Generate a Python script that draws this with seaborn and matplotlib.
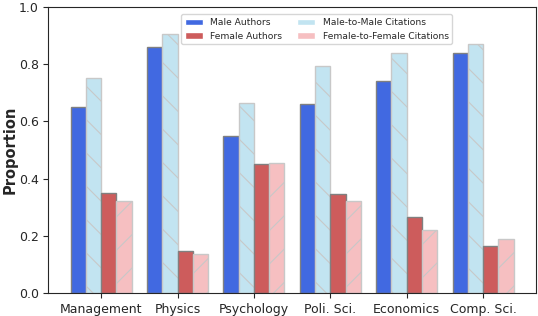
import matplotlib
matplotlib.use("Agg")
import matplotlib.pyplot as plt
import seaborn as sns
import pandas as pd

fields = ["Management", "Physics", "Psychology", "Poli. Sci.", "Economics", "Comp. Sci."]
male_authors = [0.65, 0.86, 0.55, 0.66, 0.74, 0.84]
male_to_male = [0.75, 0.905, 0.665, 0.795, 0.84, 0.87]
female_authors = [0.35, 0.145, 0.45, 0.345, 0.265, 0.165]
female_to_female = [0.32, 0.135, 0.455, 0.32, 0.22, 0.19]

series = ["Male Authors", "Male-to-Male Citations", "Female Authors", "Female-to-Female Citations"]
values = [male_authors, male_to_male, female_authors, female_to_female]

rows = []
for name, vals in zip(series, values):
    for f, v in zip(fields, vals):
        rows.append({"Field": f, "Series": name, "Proportion": v})
df = pd.DataFrame(rows)

colors = ["#4169e1", "#c2e4f1", "#cd5c5c", "#f6bfc1"]
edges = ["#808080", "#c8c8c8", "#808080", "#c8c8c8"]
hatches = ["", "\\", "", "/"]

sns.set_style("ticks")
plt.rcParams["font.family"] = ["DejaVu Sans"]
plt.rcParams["hatch.linewidth"] = 0.8

fig, ax = plt.subplots(figsize=(5.38, 3.16), dpi=100)
sns.barplot(data=df, x="Field", y="Proportion", hue="Series", hue_order=series,
            palette=colors, saturation=1, width=0.8, ax=ax)

for cont, ec, h in zip(ax.containers, edges, hatches):
    for bar in cont:
        bar.set_edgecolor(ec)
        bar.set_linewidth(1.0)
        bar.set_hatch(h)

ax.set_xlim(-0.69, 5.69)
ax.set_ylim(0, 1.0)
ax.set_xlabel("")
ax.set_ylabel("Proportion", fontsize=10.5, fontweight="bold", labelpad=1)
ax.tick_params(labelsize=9)

handles, labels = ax.get_legend_handles_labels()
order = [0, 2, 1, 3]
ax.legend([handles[i] for i in order], [labels[i] for i in order],
          loc="upper center", ncol=2, fontsize=6.6, frameon=True,
          bbox_to_anchor=(0.55, 0.99), handlelength=2.0, columnspacing=1.6)

fig.subplots_adjust(left=0.09, right=0.996, top=0.978, bottom=0.073)
fig.savefig("out.png", dpi=100)
